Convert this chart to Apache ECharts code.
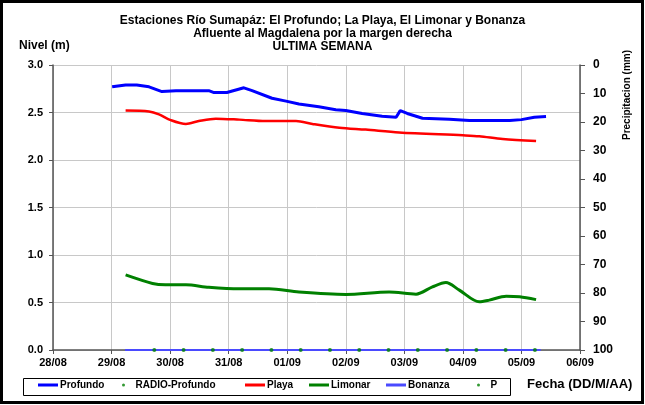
<!DOCTYPE html>
<html>
<head>
<meta charset="utf-8">
<script src="https://cdn.jsdelivr.net/npm/echarts@6/dist/echarts.min.js"></script>
<style>
  html, body { margin: 0; padding: 0; background: #fff; }
  #chart { width: 645px; height: 405px; }
</style>
</head>
<body>
<div id="chart"></div>
<script>
// etiquetas del eje X (dias desde 28/08)
const dateLabels = ['28/08', '29/08', '30/08', '31/08', '01/09', '02/09', '03/09', '04/09', '05/09', '06/09'];

// Profundo
const profundoX = [1.01, 1.24, 1.43, 1.64, 1.86, 2.10, 2.66, 2.75, 2.97, 3.26, 3.40, 3.74, 3.98, 4.20, 4.54, 4.83, 5.00, 5.28, 5.62, 5.86, 5.93, 6.05, 6.31, 6.77, 7.11, 7.80, 8.00, 8.22, 8.42];
const profundoY = [2.77, 2.79, 2.79, 2.77, 2.72, 2.73, 2.73, 2.71, 2.71, 2.76, 2.73, 2.65, 2.62, 2.59, 2.56, 2.53, 2.52, 2.49, 2.46, 2.45, 2.52, 2.49, 2.44, 2.43, 2.415, 2.415, 2.425, 2.45, 2.457];

// Playa
const playaX = [1.24, 1.64, 1.81, 2.01, 2.27, 2.49, 2.78, 3.18, 3.63, 4.15, 4.43, 4.89, 5.34, 5.91, 7.00, 7.28, 7.68, 8.25];
const playaY = [2.52, 2.51, 2.48, 2.42, 2.38, 2.41, 2.435, 2.425, 2.41, 2.41, 2.38, 2.34, 2.32, 2.29, 2.26, 2.25, 2.22, 2.20];

// Limonar
const limonarX = [1.24, 1.70, 1.92, 2.27, 2.66, 3.18, 3.69, 4.20, 5.00, 5.74, 6.20, 6.48, 6.71, 6.94, 7.28, 7.45, 7.74, 7.97, 8.25];
const limonarY = [0.79, 0.70, 0.686, 0.686, 0.66, 0.644, 0.644, 0.61, 0.585, 0.61, 0.588, 0.665, 0.71, 0.63, 0.507, 0.525, 0.567, 0.56, 0.53];

// Bonanza
const bonanzaX = [1.23, 8.33];
const bonanzaY = [0, 0];

// P (puntos)
const pX = [1.73, 2.23, 2.73, 3.23, 3.73, 4.23, 4.73, 5.23, 5.73, 6.23, 6.73, 7.23, 7.73, 8.23];
const pY = [0, 0, 0, 0, 0, 0, 0, 0, 0, 0, 0, 0, 0, 0];

const font = "'Liberation Sans', Arial, sans-serif";
const pair = (xs, ys) => xs.map((x, i) => [x, ys[i]]);

// posicion de cada item de la leyenda
const legendItems = [
  { name: 'Profundo', left: 38, icon: 'rect' },
  { name: 'RADIO-Profundo', left: 122, icon: 'circle' },
  { name: 'Playa', left: 245, icon: 'rect' },
  { name: 'Limonar', left: 309, icon: 'rect' },
  { name: 'Bonanza', left: 386, icon: 'rect' },
  { name: 'P', left: 477, icon: 'circle' }
];

const chart = echarts.init(document.getElementById('chart'));

const option = {
  animation: false,
  backgroundColor: '#fff',
  textStyle: { fontFamily: font },
  title: {
    text: 'Estaciones Río Sumapáz: El Profundo; La Playa, El Limonar y Bonanza\nAfluente al Magdalena por la margen derecha\nULTIMA SEMANA',
    left: 'center',
    top: 9,
    textStyle: { fontFamily: font, fontSize: 12, fontWeight: 'bold', color: '#000', lineHeight: 13 }
  },
  legend: legendItems.map(it => ({
    data: [{ name: it.name, icon: it.icon }],
    left: it.left,
    top: 380,
    padding: 0,
    itemWidth: 20,
    itemHeight: 3,
    textStyle: { fontFamily: font, fontSize: 10, fontWeight: 'bold', color: '#000', padding: [0, 0, 0, -3] },
    selectedMode: false
  })),
  grid: { left: 53, right: 65, top: 65, bottom: 55 },
  xAxis: {
    type: 'value',
    min: 0,
    max: 9,
    interval: 1,
    axisLine: { lineStyle: { color: '#555', width: 1.5 } },
    axisTick: { show: true, length: 4, lineStyle: { color: '#555' } },
    axisLabel: {
      margin: 7,
      fontFamily: font, fontSize: 11, fontWeight: 'bold', color: '#000',
      formatter: v => dateLabels[Math.round(v)] || ''
    },
    splitLine: { show: true, lineStyle: { color: '#c8c8c8', width: 1 } }
  },
  yAxis: [
    {
      type: 'value',
      min: 0,
      max: 3,
      interval: 0.5,
      axisLine: { show: true, lineStyle: { color: '#555', width: 1.5 } },
      axisTick: { show: true, length: 4, lineStyle: { color: '#555' } },
      axisLabel: {
        margin: 10,
        fontFamily: font, fontSize: 11, fontWeight: 'bold', color: '#000',
        formatter: v => v.toFixed(1)
      },
      splitLine: { show: true, lineStyle: { color: '#c8c8c8', width: 1 } }
    },
    {
      type: 'value',
      min: 0,
      max: 100,
      interval: 10,
      inverse: true,
      position: 'right',
      axisLine: { show: true, lineStyle: { color: '#555', width: 1.5 } },
      axisTick: { show: true, length: 5, lineStyle: { color: '#555' } },
      axisLabel: { margin: 13, fontFamily: font, fontSize: 12, fontWeight: 'bold', color: '#000' },
      splitLine: { show: false }
    }
  ],
  graphic: [
    {
      type: 'rect',
      shape: { x: 1.5, y: 1.5, width: 641, height: 401 },
      style: { fill: 'none', stroke: '#000', lineWidth: 3 },
      silent: true
    },
    {
      type: 'rect',
      shape: { x: 23.5, y: 378.5, width: 487, height: 17 },
      style: { fill: 'none', stroke: '#000', lineWidth: 1 },
      silent: true
    },
    {
      type: 'text', left: 19, top: 40,
      style: { text: 'Nivel (m)', font: 'bold 12px ' + font, fill: '#000' }
    },
    {
      type: 'text', left: 527, top: 378,
      style: { text: 'Fecha (DD/M/AA)', font: 'bold 13px ' + font, fill: '#000' }
    },
    {
      type: 'text', x: 622, y: 140, rotation: Math.PI / 2,
      style: { text: 'Precipitacion (mm)', font: 'bold 10px ' + font, fill: '#000' }
    }
  ],
  series: [
    {
      name: 'Profundo', type: 'line', yAxisIndex: 0,
      data: pair(profundoX, profundoY),
      showSymbol: false, symbol: 'none',
      lineStyle: { color: '#0000ff', width: 3 },
      itemStyle: { color: '#0000ff' },
      z: 5
    },
    {
      name: 'RADIO-Profundo', type: 'scatter', yAxisIndex: 0,
      data: [],
      symbolSize: 4,
      itemStyle: { color: '#008000' }
    },
    {
      name: 'Playa', type: 'line', yAxisIndex: 0,
      data: pair(playaX, playaY),
      smooth: 0.3, showSymbol: false, symbol: 'none',
      lineStyle: { color: '#ff0000', width: 2.5 },
      itemStyle: { color: '#ff0000' }
    },
    {
      name: 'Limonar', type: 'line', yAxisIndex: 0,
      data: pair(limonarX, limonarY),
      smooth: 0.3, showSymbol: false, symbol: 'none',
      lineStyle: { color: '#008000', width: 3 },
      itemStyle: { color: '#008000' }
    },
    {
      name: 'Bonanza', type: 'line', yAxisIndex: 0,
      data: pair(bonanzaX, bonanzaY),
      showSymbol: false, symbol: 'none',
      lineStyle: { color: '#4a4aff', width: 2 },
      itemStyle: { color: '#4a4aff' },
      z: 6
    },
    {
      name: 'P', type: 'scatter', yAxisIndex: 0,
      data: pair(pX, pY),
      symbolSize: 4,
      itemStyle: { color: '#008000' },
      z: 7
    }
  ]
};

chart.setOption(option);
</script>
</body>
</html>
